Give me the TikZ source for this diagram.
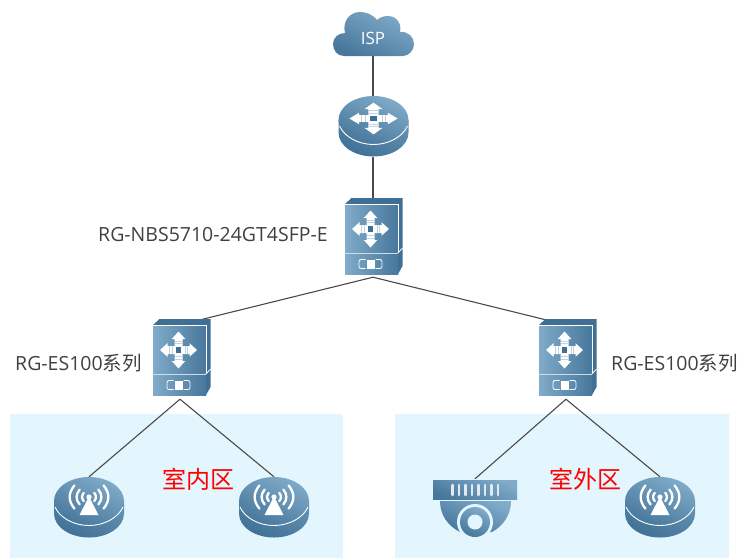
\documentclass[tikz,border=0pt]{standalone}
\usepackage{fontspec}
\usepackage{amsmath}
\usepackage{tikz}
\usetikzlibrary{backgrounds}
\setmainfont{Open Sans}
\newfontfamily\cjk{Noto Sans CJK SC}
\definecolor{iconlt}{HTML}{80ABC9}
\definecolor{icondk}{HTML}{47779C}
\definecolor{sidelt}{HTML}{6391B2}
\definecolor{sidedk}{HTML}{3F6F95}
\definecolor{panelbg}{HTML}{E3F5FD}
\definecolor{linkgray}{HTML}{4A4A4A}
\definecolor{labelgray}{HTML}{404040}
\tikzset{
	x=1pt,y=-1pt,
	iconface/.style={top color=iconlt,bottom color=icondk,shading angle=-25},
	iconside/.style={top color=sidelt,bottom color=sidedk,shading angle=-25},
	link/.style={draw=linkgray,line width=1.1pt},
	spot/.style={inner sep=0pt,minimum width=#1},
	devlabel/.style={text=labelgray,inner sep=0pt,font=\fontsize{19.5}{22}\selectfont},
	zonelabel/.style={text=red,inner sep=0pt,font=\cjk\fontsize{24}{28}\selectfont},
	crossarrows/.pic={
		\foreach \a in {0,90,180,270} {
			\begin{scope}[rotate=\a]
				\fill[white] (18.5,0)--(11,-6.8)--(11,-4)--(3,-4)--(3,4)--(11,4)--(11,6.8)--cycle;
				\foreach \s in {6.5,9}
					\draw[iconlt!50!white,line width=.7pt] (\s,-4)--(\s,4);
			\end{scope}
		}
		\fill[white] (-4.3,-4.3) rectangle (4.3,4.3);
		\fill[sidedk] (-2.6,-2.6) rectangle (2.6,2.6);
	},
	discbody/.pic={
		\shade[iconside] (-35,0)--(-35,12.5) .. controls (-35,26) and (-19,36.5) .. (0,36.5) .. controls (19,36.5) and (35,26) .. (35,12.5)--(35,0)--cycle;
		\shade[iconface] (0,0) ellipse [x radius=35,y radius=24];
		\draw[white,line width=.9pt] (-34,6) .. controls (-29,17) and (-15,24.5) .. (0,24.5) .. controls (15,24.5) and (29,17) .. (34,6);
	},
	aerial/.pic={
		\fill[white] (0,-4)--(9.5,14.5)--(-9.5,14.5)--cycle;
		\fill[white] (0,-3.5) circle (2.6);
		\foreach \r in {6.7,12,18.7} {
			\draw[white,line width=2.3pt,line cap=round] (-\r*.78,-3.5-\r*.62) .. controls (-\r*1.12,-3.5-\r*.2) and (-\r*1.12,-3.5+\r*.2) .. (-\r*.78,-3.5+\r*.62);
			\draw[white,line width=2.3pt,line cap=round] (\r*.78,-3.5-\r*.62) .. controls (\r*1.12,-3.5-\r*.2) and (\r*1.12,-3.5+\r*.2) .. (\r*.78,-3.5+\r*.62);
		}
	},
	switchbody/.pic={
		\fill[sidedk] (-26.5,-35)--(-20,-41)--(31,-41)--(31,27)--(26.5,35)--cycle;
		\shade[left color=iconlt,right color=icondk] (-26.5,-35) rectangle (26.5,35);
		\draw[white,line width=.8pt] (-26.5,-35)--(26.5,-35)--(26.5,14);
		\draw[white!60!iconlt,line width=.8pt] (-26.5,14)--(26.5,14);
		\draw[white,line width=.8pt] (26.5,14)--(31,9);
		\pic at (-1,-10) {crossarrows};
		\draw[white,line width=.8pt,rounded corners=2pt] (-6,20.5)--(-12.5,20.5)--(-12.5,29.5)--(-6,29.5);
		\draw[white,line width=.8pt,rounded corners=2pt] (4,20.5)--(10.5,20.5)--(10.5,29.5)--(4,29.5);
		\fill[white] (-5,20.5) rectangle (3,29.5);
	},
	dome/.pic={
		\shade[iconface] (-42,-23) rectangle (42,-4);
		\foreach \i in {0,...,7}
			\draw[white!75!iconlt,line width=2.6pt,line cap=round] (-22.5+\i*6.5,-18)--(-22.5+\i*6.5,-8);
		\shade[iconface] (-35,-2)--(36,-2) .. controls (36,12) and (28,23) .. (17,29)--(-15,29) .. controls (-27,23) and (-35,12) .. (-35,-2)--cycle;
		\fill[panelbg] (0,19) circle (18);
		\shade[iconface] (0,19) circle (15);
		\fill[panelbg] (0,19) circle (7.5);
	},
}
\begin{document}
\begin{tikzpicture}
	\useasboundingbox (0,0) rectangle (738,558);
	\shade[iconface] (344,56) .. controls (337,56) and (333,50) .. (333,44) .. controls (333,38) and (338,33) .. (345,33) .. controls (342,21) and (350,12) .. (360,12) .. controls (367,12) and (373,15) .. (377,20) .. controls (380,17) and (384,16) .. (388,16) .. controls (396,16) and (402,23) .. (400,32) .. controls (408,31) and (414,37) .. (414,44) .. controls (414,50) and (409,56) .. (403,56) -- cycle;
	\node[inner sep=0pt,text=white,font=\fontsize{17}{20}\selectfont,minimum width=60pt,minimum height=36pt] (cloud) at (373,38) {ISP};
	\node[spot=67,minimum height=60pt] (router) at (373,127) {};
	\node[spot=53,minimum height=78pt] (core) at (373,238) {};
	\node[spot=53,minimum height=74pt] (swleft) at (180,362) {};
	\node[spot=53,minimum height=74pt] (swright) at (566,362) {};
	\node[spot=60,minimum height=4pt] (apone) at (89,479) {};
	\node[spot=60,minimum height=4pt] (aptwo) at (274,479) {};
	\node[spot=60,minimum height=4pt] (cam) at (475,481) {};
	\node[spot=60,minimum height=4pt] (apthree) at (660,479) {};
	\pic at (373.5,120) {discbody};
	\pic[xscale=1.3,yscale=.86] at (373.5,118.5) {crossarrows};
	\pic at (371.5,239) {switchbody};
	\pic at (179.5,360) {switchbody};
	\pic at (565.5,360) {switchbody};
	\pic at (89,501) {discbody};
	\pic at (89,500.5) {aerial};
	\pic at (274,501) {discbody};
	\pic at (274,500.5) {aerial};
	\pic at (660,501) {discbody};
	\pic at (660,500.5) {aerial};
	\pic at (475,503) {dome};
	\begin{scope}[on background layer]
		\fill[panelbg] (10,414) rectangle (343,558);
		\fill[panelbg] (395,414) rectangle (729,558);
		\draw[link] (cloud.south)--(router.north);
		\draw[link] (router.south)--(core.north);
		\draw[link] (core.south)--(swleft.north);
		\draw[link] (core.south)--(swright.north);
		\draw[link] (swleft.south)--(apone.north);
		\draw[link] (swleft.south)--(aptwo.north);
		\draw[link] (swright.south)--(cam.north);
		\draw[link] (swright.south)--(apthree.north);
	\end{scope}
	\node[devlabel,anchor=west] (lblcore) at (98,235) {RG-NBS5710-24GT4SFP-E};
	\node[devlabel,anchor=west] (lblleft) at (15,363) {RG-ES100{\cjk 系列}};
	\node[devlabel,anchor=west] (lblright) at (611,363) {RG-ES100{\cjk 系列}};
	\node[zonelabel] (zonein) at (198.5,479) {室内区};
	\node[zonelabel] (zoneout) at (585,479) {室外区};
\end{tikzpicture}
\end{document}
